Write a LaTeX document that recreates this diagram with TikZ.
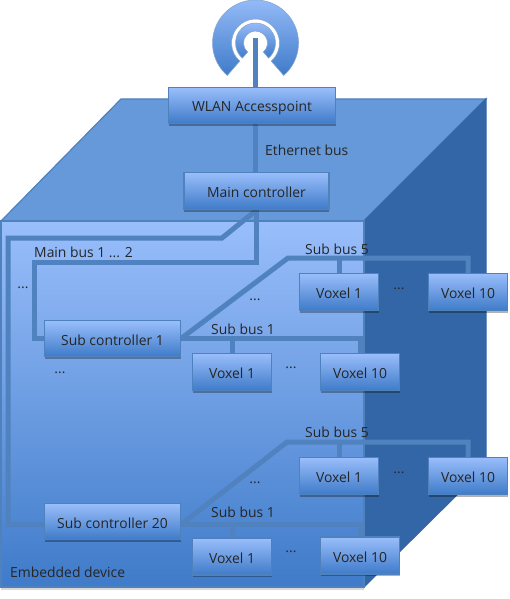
\documentclass[tikz,border=0pt]{standalone}
\usepackage{fontspec}
\setmainfont{Open Sans}
\usetikzlibrary{calc,shadows}
\definecolor{lightx}{HTML}{99BEFB}
\definecolor{deepx}{HTML}{3F7BC9}
\definecolor{topx}{HTML}{6699D9}
\definecolor{sidex}{HTML}{3366A6}
\definecolor{edgex}{HTML}{4F81BD}
\definecolor{busx}{HTML}{4F82BE}
\pgfdeclarelayer{cube}
\pgfdeclarelayer{wires}
\pgfsetlayers{cube,wires,main}
\tikzset{
  lbl/.style={font=\fontsize{13.9}{16}\selectfont,inner sep=0pt,text=black!85},
  box/.style={lbl,text height=13pt,text depth=0pt,draw=edgex,line width=1.2pt,top color=lightx,bottom color=deepx,
    drop shadow={shadow xshift=0pt,shadow yshift=-2pt,opacity=.3,fill=black}},
  ctrl/.style={box,minimum width=136pt,minimum height=36pt},
  voxel/.style={box,minimum width=79pt,minimum height=37pt},
  bus/.style={line width=5pt,draw=busx,preaction={draw=black,opacity=.08,transform canvas={yshift=-1.5pt}}},
  face/.style={draw=edgex,line width=1.2pt,line join=miter},
  band/.style={draw=edgex!70,line width=.6pt,top color=lightx,bottom color=deepx}
}
\begin{document}
\begin{tikzpicture}[x=1pt,y=-1pt]
\useasboundingbox (0,0) rectangle (510,599);
% cube
\begin{pgfonlayer}{cube}
\fill[black,opacity=.15] (1,587) rectangle (364,590);
\draw[face,fill=topx] (1,221)--(121,99)--(486,99)--(364,221)--cycle;
\draw[face,draw=sidex,fill=sidex] (364,221)--(486,99)--(486,466)--(364,587)--cycle;
\path[top color=lightx,bottom color=deepx] (1,221) rectangle (364,587);
\draw[face] (1,221) rectangle (364,587);
\end{pgfonlayer}
% antenna
\begin{scope}[shift={(255.5,43)},y=1pt]
\path[band] (-49:43) arc[start angle=-49,end angle=229,radius=43pt] -- (229:24) arc[start angle=229,end angle=-49,radius=24pt] -- cycle;
\path[band] (-49:20) arc[start angle=-49,end angle=229,radius=20pt] -- (229:12) arc[start angle=229,end angle=-49,radius=12pt] -- cycle;
\end{scope}
% nodes
\node[box,minimum width=167pt,minimum height=36pt] (wlan) at (252,105.5) {WLAN Accesspoint};
\node[box,minimum width=145pt,minimum height=37pt] (main) at (256.5,191) {Main controller};
\node[ctrl] (subA) at (112.5,338.5) {Sub controller 1};
\node[ctrl] (subB) at (112.5,521.5) {Sub controller 20};
\node[voxel] (vAa) at (232,372) {Voxel 1};
\node[voxel] (vAb) at (360,372) {Voxel 10};
\node[voxel] (vBa) at (339,292) {Voxel 1};
\node[voxel] (vBb) at (468,292) {Voxel 10};
\node[voxel] (vCa) at (232,556.5) {Voxel 1};
\node[voxel] (vCb) at (360,555.5) {Voxel 10};
\node[voxel] (vDa) at (339,476) {Voxel 1};
\node[voxel] (vDb) at (468,476) {Voxel 10};
\coordinate (tip) at (255,38);
\coordinate (ma) at (34,262);
\coordinate (mb) at (222,238);
\coordinate (mc) at (8,238);
\coordinate (ca) at (288,258);
\coordinate (cb) at (287,442);
\coordinate (sb) at ([yshift=-3pt]subB.east);
% buses
\begin{pgfonlayer}{wires}
\draw[bus] (tip) -- (tip |- wlan.north);
\draw[bus] (tip |- wlan.south) -- (tip |- main.north);
\draw[bus] (main.south) |- (ma) |- (subA.west);
\draw[bus] (main.south) -- (mb) -- (mc) |- ([yshift=-3pt]subB.west);
\draw[bus] (subA.east) -| (vAb.north);
\draw[bus] (vAa.north) -- (vAa.north |- subA.east);
\draw[bus] (subA.east) -- (ca) -| (vBb.north);
\draw[bus] (vBa.north) -- (vBa.north |- ca);
\draw[bus] (sb) -| (vCb.north);
\draw[bus] (vCa.north) -- (vCa.north |- sb);
\draw[bus] (sb) -- (cb) -| (vDb.north);
\draw[bus] (vDa.north) -- (vDa.north |- cb);
\end{pgfonlayer}
% labels
\node[lbl,anchor=west] (eth) at (265,150) {Ethernet bus};
\node[lbl,anchor=west] (mbus) at (34,252) {Main bus 1 ... 2};
\node[lbl] (dotA) at (23,288) {...};
\node[lbl] (dotB) at (60,373) {...};
\node[lbl] (dotC) at (255,300) {...};
\node[lbl] (dotD) at (399,289) {...};
\node[lbl] (dotE) at (291,368) {...};
\node[lbl] (dotF) at (255,483) {...};
\node[lbl] (dotG) at (399,473) {...};
\node[lbl] (dotH) at (291,552) {...};
\node[lbl] (sbA) at (243,329) {Sub bus 1};
\node[lbl] (sbB) at (337,249) {Sub bus 5};
\node[lbl] (sbC) at (243,512) {Sub bus 1};
\node[lbl] (sbD) at (337,432) {Sub bus 5};
\node[lbl,anchor=west] (emb) at (10,572) {Embedded device};
\end{tikzpicture}
\end{document}
